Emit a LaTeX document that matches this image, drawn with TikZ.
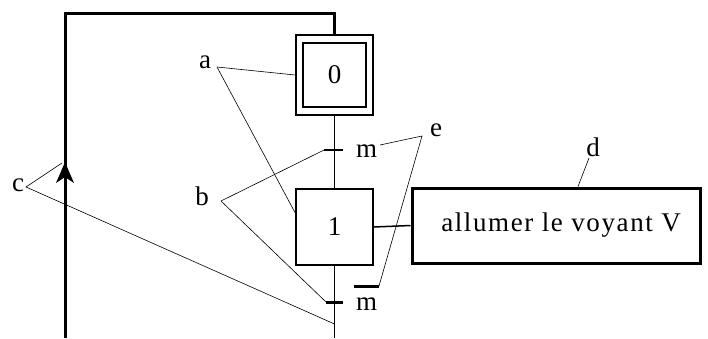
\documentclass[tikz,border=0pt]{standalone}
\usepackage{fontspec}
\setmainfont{Liberation Serif}
\begin{document}
\begin{tikzpicture}[x=1pt,y=-1pt,
  lbl/.style={font=\fontsize{27}{30}\selectfont, inner sep=0pt},
  stepbox/.style={draw, line width=1.5pt, inner sep=0pt, font=\fontsize{27}{30}\selectfont},
  thinlink/.style={line width=1.5pt},
  leader/.style={line width=0.6pt},
  loop/.style={line width=3pt}]
\useasboundingbox (0,0) rectangle (708,338);
% steps
\node[stepbox, line width=1.8pt, minimum width=77pt, minimum height=80pt] (s0) at (334.5,75) {};
\node[stepbox, line width=2.4pt, minimum width=63pt, minimum height=64pt] (s0i) at (334.5,75) {0};
\node[stepbox, minimum width=77pt, minimum height=76pt] (s1) at (334.5,227) {1};
% action
\node[draw, line width=3pt, minimum width=288pt, minimum height=75pt, inner sep=0pt,
      font=\fontsize{27}{30}\selectfont\addfontfeature{LetterSpace=6}] (act) at (556,225.5) {\hspace{10pt}allumer le voyant V};
% transitions
\coordinate (t1) at (334.5,150);
\coordinate (t1l) at (324,150);
\coordinate (t1r) at (343,150);
\coordinate (t2) at (334.5,302);
\coordinate (t2l) at (326,302);
\coordinate (t2r) at (343,302);
\coordinate (bot) at (334.5,338);
\draw[thinlink] (s0.south) -- (t1) -- (s1.north);
\draw[thinlink] (s1.south) -- (t2) -- (bot);
\draw[thinlink] (t1l) -- (t1r);
\draw[line width=3pt] (t2l) -- (t2r);
\node[lbl, anchor=west] (m1) at (356,151) {m};
\node[lbl, anchor=west] (m2) at (356,304) {m};
\coordinate (barL) at (354,286);
\coordinate (barR) at (379,286);
\draw[line width=3pt] (barL) -- (barR);
% link step 1 -> action
\draw[thinlink] (s1.east) -- (act.west);
% loop
\coordinate (lb) at (65,338);
\coordinate (lt) at (65,13);
\coordinate (rt) at (334.5,13);
\coordinate (arrT) at (65,162);
\draw[loop] (lb) -- (lt) -- (rt) -- (s0.north);
\fill (arrT) -- ++(-9,21) -- ++(9,-6) -- ++(9,6) -- cycle;
% labels
\node[lbl] (la) at (205,62) {a};
\node[lbl] (lbb) at (202,196) {b};
\node[lbl] (lc) at (18,185) {c};
\node[lbl] (ld) at (593,147) {d};
\node[lbl] (le) at (436,130) {e};
\coordinate (ap) at (217,67);
\coordinate (bp) at (221,201);
\coordinate (cp) at (26,187);
\coordinate (dp) at (589,158);
\coordinate (ep) at (422,136);
\coordinate (carr) at (62,163);
\coordinate (cline) at (334.5,324);
\coordinate (m1e) at (380,145);
\draw[leader] (ap) -- (s0.west);
\draw[leader] (ap) -- ([yshift=14pt]s1.west);
\draw[leader] (t1l) -- (bp) -- (t2l);
\draw[leader] (carr) -- (cp) -- (cline);
\draw[leader] (dp) -- ([xshift=22pt]act.north);
\draw[leader] (m1e) -- (ep) -- (barR);
\end{tikzpicture}
\end{document}
